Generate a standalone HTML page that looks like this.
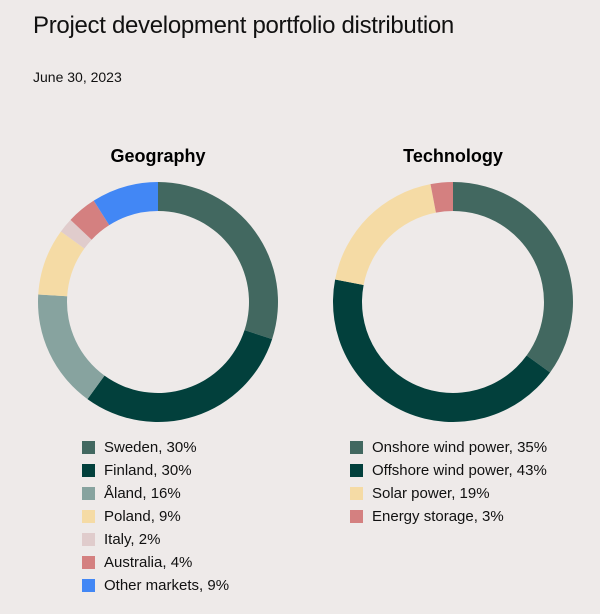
<!DOCTYPE html>
<html><head><meta charset="utf-8"><style>
body{margin:0;width:600px;height:614px;background:#eeeae9;font-family:"Liberation Sans",sans-serif;color:#111;overflow:hidden;position:relative}
.t{position:absolute;left:33px;top:12px;font-size:24px;letter-spacing:-0.3px}
.d{position:absolute;left:33px;top:69px;font-size:14px}
.lg{position:absolute;font-size:15px}
.row{height:23px;display:flex;align-items:center}
.sq{width:13px;height:13px;margin-right:9px}
</style></head><body>
<div class="t">Project development portfolio distribution</div>
<div class="d">June 30, 2023</div>
<svg id="svg" width="600" height="614" style="position:absolute;left:0;top:0">
<text x="158" y="162" text-anchor="middle" font-size="18" font-weight="bold" font-family="Liberation Sans">Geography</text>
<text x="453" y="162" text-anchor="middle" font-size="18" font-weight="bold" font-family="Liberation Sans">Technology</text>
</svg>
<div class="lg" id="lg1" style="left:82px;top:436px"></div>
<div class="lg" id="lg2" style="left:350px;top:436px"></div>
<script>
const geoLabels=["Sweden","Finland","Åland","Poland","Italy","Australia","Other markets"];
const geoValues=[30,30,16,9,2,4,9];
const geoColors=["#426860","#02403c","#87a39f","#f5dba5","#e0cccc","#d48080","#4287f5"];
const techLabels=["Onshore wind power","Offshore wind power","Solar power","Energy storage"];
const techValues=[35,43,19,3];
const techColors=["#426860","#02403c","#f5dba5","#d48080"];
const NS="http://www.w3.org/2000/svg";
const svg=document.getElementById('svg');
function donut(vals,cols,cx,cy,R,r,prefix){
  const tot=vals.reduce((a,b)=>a+b,0);let a0=0;
  vals.forEach((v,i)=>{
    const a1=a0+v/tot*2*Math.PI;
    const p=(a,rad)=>[cx+rad*Math.sin(a),cy-rad*Math.cos(a)];
    const [x1,y1]=p(a0,R),[x2,y2]=p(a1,R),[x3,y3]=p(a1,r),[x4,y4]=p(a0,r);
    const lg=(a1-a0)>Math.PI?1:0;
    const path=document.createElementNS(NS,'path');
    path.setAttribute('d',`M${x1},${y1}A${R},${R} 0 ${lg} 1 ${x2},${y2}L${x3},${y3}A${r},${r} 0 ${lg} 0 ${x4},${y4}Z`);
    path.setAttribute('fill',cols[i]);
    
    
    svg.appendChild(path);a0=a1;
  });
}
donut(geoValues,geoColors,158,302,120,91,'geography');
donut(techValues,techColors,453,302,120,91,'technology');
function legend(id,labels,vals,cols){
  const el=document.getElementById(id);
  labels.forEach((l,i)=>{
    const row=document.createElement('div');row.className='row';
    
    
    row.innerHTML='<div class="sq" style="background:'+cols[i]+'"></div><span>'+l+', '+vals[i]+'%</span>';
    el.appendChild(row);
  });
}
legend('lg1',geoLabels,geoValues,geoColors);
legend('lg2',techLabels,techValues,techColors);
</script>
</body></html>
